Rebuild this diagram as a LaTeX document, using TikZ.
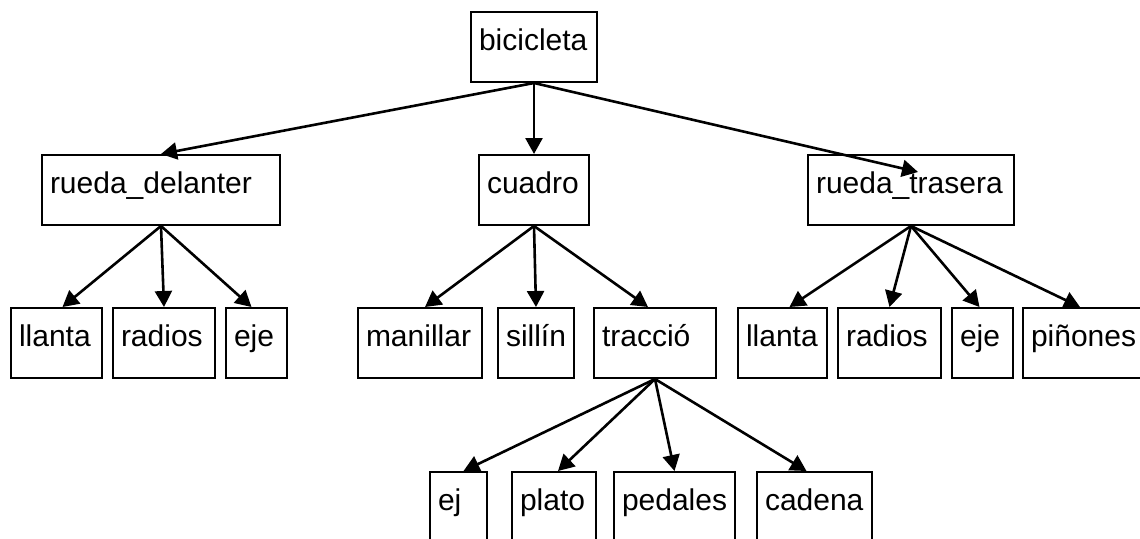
\documentclass[tikz,border=0pt]{standalone}
\usepackage{fontspec}
\setmainfont{Liberation Sans}
\usetikzlibrary{arrows.meta}

\tikzset{
  caja/.style={draw, line width=2pt, anchor=north west, inner xsep=8pt, inner ysep=0pt,
               align=left, text height=38pt, text depth=32pt,
               font=\fontsize{30}{35}\selectfont},
  flecha/.style={line width=2.6pt, -{Triangle[length=16pt,width=17pt]}}
}

\begin{document}
\begin{tikzpicture}[x=1pt,y=-1pt]
\useasboundingbox (0,0) rectangle (1140,538);

\node[caja, text width=110pt] (bici) at (470, 11) {bicicleta};

\node[caja, text width=222pt] (rdel)  at ( 41,154) {rueda\_delanter};
\node[caja, text width= 94pt] (cuad)  at (478,154) {cuadro};
\node[caja, text width=190pt] (rtras) at (807,154) {rueda\_trasera};

\node[caja, text width= 75pt] (llantaA) at ( 10,307) {llanta};
\node[caja, text width= 86pt] (radiosA) at (112,307) {radios};
\node[caja, text width= 45pt] (ejeA)    at (225,307) {eje};
\node[caja, text width=108pt] (manil)   at (357,307) {manillar};
\node[caja, text width= 60pt] (sillin)  at (497,307) {sillín};
\node[caja, text width=106pt] (tracc)   at (593,307) {tracció};
\node[caja, text width= 73pt] (llantaB) at (737,307) {llanta};
\node[caja, text width= 87pt] (radiosB) at (837,307) {radios};
\node[caja, text width= 45pt] (ejeB)    at (951,307) {eje};
\node[caja, text width=114pt] (pinon)   at (1022,307) {piñones};

\node[caja, text width= 41pt] (ej)    at (429,471) {ej};
\node[caja, text width= 68pt] (plato) at (511,471) {plato};
\node[caja, text width=105pt] (pedal) at (613,471) {pedales};
\node[caja, text width= 99pt] (caden) at (756,471) {cadena};

\coordinate (rtpunta) at (918,172);

% primer nivel
\draw[flecha] (bici.south) -- (rdel.north);
\draw[flecha] (bici.south) -- (cuad.north);
\draw[flecha] (bici.south) -- (rtpunta);

% rueda delantera
\draw[flecha] (rdel.south) -- ([xshift=6pt]llantaA.north);
\draw[flecha] (rdel.south) -- (radiosA.north);
\draw[flecha] (rdel.south) -- ([xshift=-5pt]ejeA.north);

% cuadro
\draw[flecha] (cuad.south) -- ([xshift=5pt]manil.north);
\draw[flecha] (cuad.south) -- (sillin.north);
\draw[flecha] (cuad.south) -- ([xshift=-7pt]tracc.north);

% rueda trasera
\draw[flecha] (rtras.south) -- ([xshift=7pt]llantaB.north);
\draw[flecha] (rtras.south) -- (radiosB.north);
\draw[flecha] (rtras.south) -- ([xshift=-3pt]ejeB.north);
\draw[flecha] (rtras.south) -- ([xshift=-8pt]pinon.north);

% traccion
\draw[flecha] (tracc.south) -- ([xshift=5pt]ej.north);
\draw[flecha] (tracc.south) -- ([xshift=4pt]plato.north);
\draw[flecha] (tracc.south) -- (pedal.north);
\draw[flecha] (tracc.south) -- ([xshift=-8pt]caden.north);

\end{tikzpicture}
\end{document}
